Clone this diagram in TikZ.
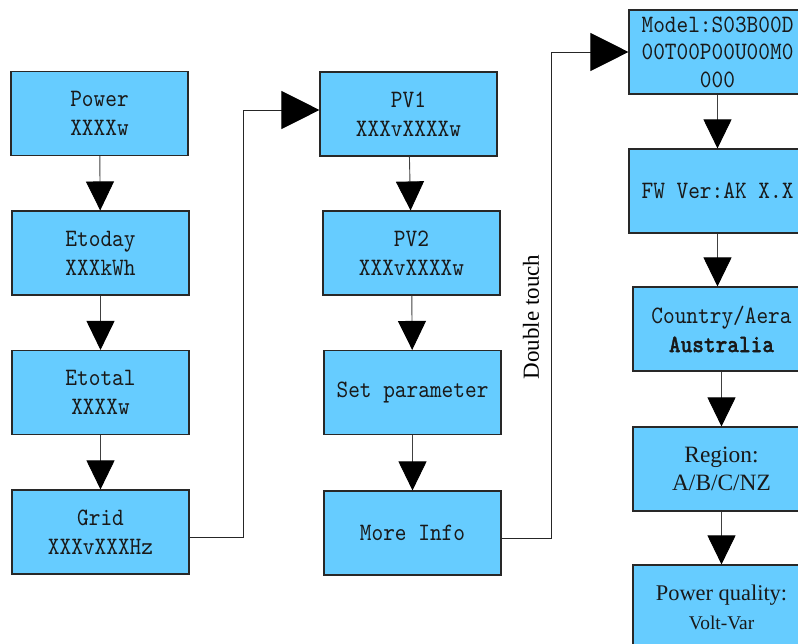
\documentclass[tikz,border=0pt]{standalone}
\usepackage{fontspec}
\setmainfont{Liberation Serif}
\newfontfamily\monof{lmmono10-regular.otf}[FakeStretch=0.89,BoldFont=lmmonolt10-bold.otf,BoldFeatures={FakeBold=1.2}]
\usetikzlibrary{arrows.meta}
\definecolor{boxfill}{RGB}{102,204,255}
\definecolor{boxline}{RGB}{40,40,40}
\newcommand\monoset[1]{\monof\fontsize{25}{#1}\selectfont}
\begin{document}
\begin{tikzpicture}[x=1pt,y=-1pt,
  box/.style={draw=boxline,line width=1.1pt,fill=boxfill,minimum width=177pt,minimum height=84pt,
    inner sep=0pt,align=center,font=\monoset{29},text=black!90},
  varr/.style={draw=black!75,line width=0.9pt,-{Triangle[length=29pt,width=28pt,color=black,fill=black]}},
  harr/.style={draw=black!85,line width=0.9pt,-{Triangle[length=38pt,width=38pt,color=black,fill=black]}}]
\useasboundingbox (0,0) rectangle (798,644);
\clip (0,0) rectangle (798,644);
% left column
\node[box] (power) at (99.5,113.5) {Power\\XXXXw};
\node[box] (etoday) at (100.5,253) {Etoday\\XXXkWh};
\node[box] (etotal) at (100.5,392.5) {Etotal\\XXXXw};
\node[box] (grid) at (100.5,532) {Grid\\XXXvXXXHz};
% middle column
\node[box] (pv1) at (408.5,114) {PV1\\XXXvXXXXw};
\node[box] (pv2) at (411.5,253) {PV2\\XXXvXXXXw};
\node[box] (setp) at (412.5,392.5) {Set parameter};
\node[box] (more) at (412.5,533) {More Info};
% right column
\node[box,font=\monoset{27.5}] (model) at (717.5,52) {Model:S03B00D\\00T00P00U00M0\\000};
\node[box] (fw) at (717.5,191) {FW Ver:AK X.X};
\node[box] (country) at (721.5,329) {Country/Aera\\\textbf{Australia}};
\node[box,font=\fontsize{23.4}{28}\selectfont] (region) at (721.5,469) {Region:\\A/B/C/NZ};
\node[box,font=\fontsize{22.4}{29}\selectfont] (pq) at (721.5,607) {Power quality:\\{\fontsize{19.4}{23}\selectfont Volt-Var}};
% label
\node[rotate=90,font=\fontsize{23}{28}\selectfont,inner sep=0pt] (dt) at (531,317) {Double touch};
% vertical arrows
\draw[varr] (power) -- (etoday);
\draw[varr] (etoday) -- (etotal);
\draw[varr] (etotal) -- (grid);
\draw[varr] (pv1) -- (pv2);
\draw[varr] (pv2) -- (setp);
\draw[varr] (setp) -- (more);
\draw[varr] (model) -- (fw);
\draw[varr] (fw.south) -- (country.north -| fw.south);
\draw[varr] (country) -- (region);
\draw[varr] (region) -- (pq);
% cross connectors
\draw[harr] ([yshift=-5pt]grid.east) -- ++(54,0) |- ([yshift=4pt]pv1.west);
\draw[harr] ([yshift=-5pt]more.east) -- ++(50,0) |- (model.west);
\end{tikzpicture}
\end{document}
